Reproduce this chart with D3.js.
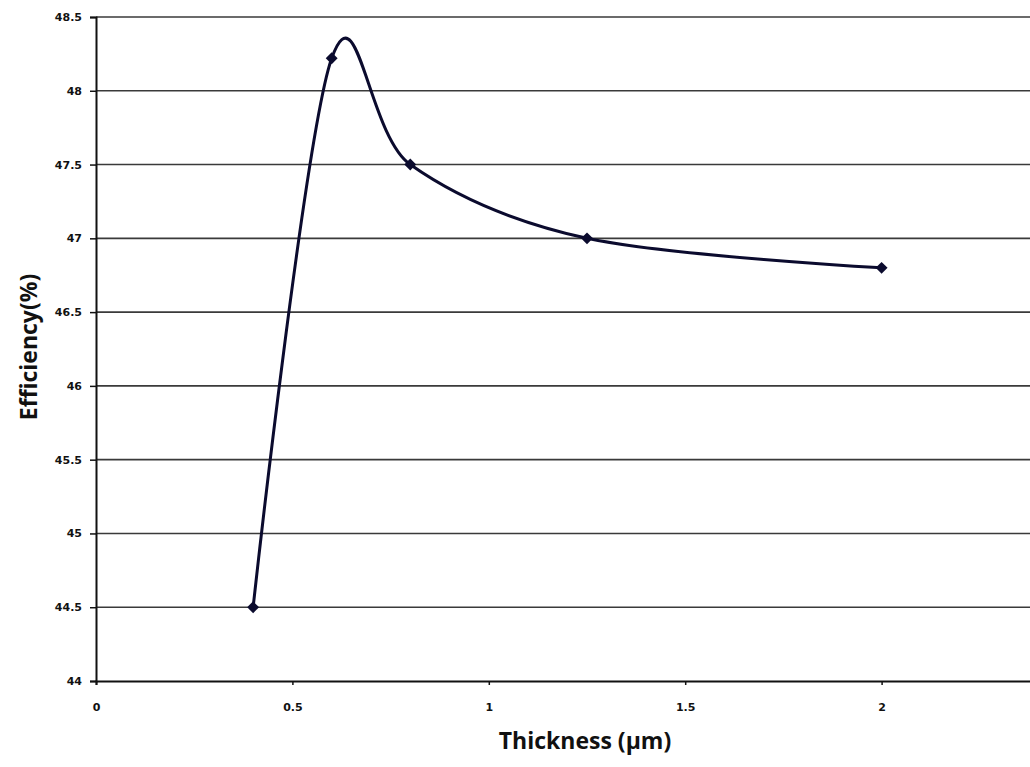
<!DOCTYPE html>
<meta charset="utf-8">
<head>
  <title>Efficiency vs thickness</title>
</head>

<style>
body {
  margin: 0;
  background: #fff;
}
svg text {
  font-family: Verdana, "DejaVu Sans", sans-serif;
}
</style>

<body>
  <div id="content">
    <svg width="1030" height="767"></svg>
  </div>

  <script src="https://cdnjs.cloudflare.com/ajax/libs/d3/7.8.5/d3.min.js"></script>

  <script>
// data
var thickness = [0.4, 0.6, 0.8, 1.25, 2.0];
var efficiency = [44.5, 48.22, 47.5, 47.0, 46.8];

var xTicks = [0, 0.5, 1, 1.5, 2];
var yTicks = [44, 44.5, 45, 45.5, 46, 46.5, 47, 47.5, 48, 48.5];

var svg = d3.select('#content svg');

// plot runs past the right edge, like the cropped original
var x = d3.scaleLinear().domain([0, 2.5]).range([96, 1078]);
var y = d3.scaleLinear().domain([44, 48.5]).range([681, 17]);

// gridlines
svg.append('g')
  .selectAll('line')
  .data(yTicks.slice(1))
  .join('line')
  .attr('x1', x(0))
  .attr('x2', 1030)
  .attr('y1', d => y(d))
  .attr('y2', d => y(d))
  .attr('stroke', '#3a3a3a')
  .attr('stroke-width', 1.6);

// y axis
var yAxis = svg.append('g')
  .attr('transform', 'translate(' + x(0) + ',0)')
  .call(d3.axisLeft(y).tickValues(yTicks).tickSize(6).tickPadding(8).tickFormat(d3.format('')));

// x axis
var xAxis = svg.append('g')
  .attr('transform', 'translate(0,' + y(44) + ')')
  .call(d3.axisBottom(x).tickValues(xTicks).tickSize(4).tickPadding(18).tickFormat(d3.format('')));

[yAxis, xAxis].forEach(function(g) {
  g.select('.domain').attr('stroke', '#111').attr('stroke-width', 2);
  g.selectAll('.tick line').attr('stroke', '#111').attr('stroke-width', 1.5);
  g.selectAll('.tick text')
    .attr('fill', '#111')
    .style('font-size', '11px')
    .style('font-weight', 'bold');
});

// smoothed line
var pts = thickness.map((t, i) => [t, efficiency[i]]);

var line = d3.line()
  .x(d => x(d[0]))
  .y(d => y(d[1]))
  .curve(d3.curveCardinal.tension(0));

svg.append('path')
  .datum(pts)
  .attr('d', line)
  .attr('fill', 'none')
  .attr('stroke', '#0b0b2e')
  .attr('stroke-width', 3);

// diamond markers
svg.append('g')
  .selectAll('path')
  .data(pts)
  .join('path')
  .attr('transform', d => 'translate(' + x(d[0]) + ',' + y(d[1]) + ')')
  .attr('d', d3.symbol().type(d3.symbolDiamond2).size(90))
  .attr('fill', '#0b0b2e');

// axis titles
svg.append('text')
  .attr('x', 585)
  .attr('y', 749)
  .attr('text-anchor', 'middle')
  .style('font-family', '"Open Sans", sans-serif')
  .style('font-size', '23px')
  .style('font-weight', 'bold')
  .attr('fill', '#111')
  .text('Thickness (µm)');

svg.append('text')
  .attr('transform', 'translate(37,347) rotate(-90)')
  .attr('text-anchor', 'middle')
  .style('font-family', '"Open Sans", sans-serif')
  .style('font-size', '23px')
  .style('font-weight', 'bold')
  .attr('fill', '#111')
  .text('Efficiency(%)');
  </script>
</body>
</html>
